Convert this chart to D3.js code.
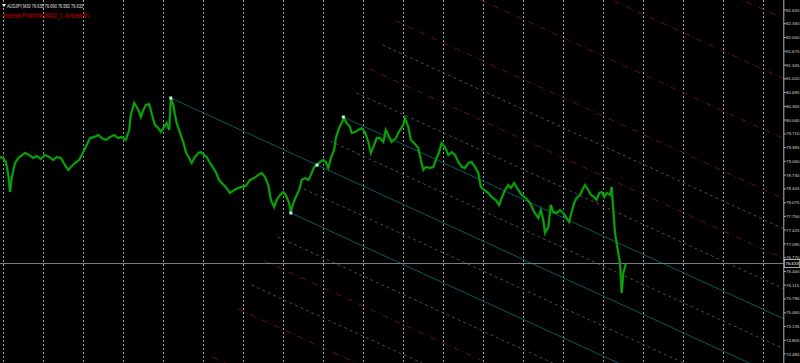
<!DOCTYPE html>
<html>
<head>
<meta charset="utf-8">
<script src="https://cdn.jsdelivr.net/npm/d3@7"></script>
<style>
	body{margin:0;background:#000;}
	svg{display:block;}
</style>
</head>
<body>
<svg id="chart" width="800" height="363"></svg>
<script>
//Header texts.
var symbolTitle = "AUDJPY,M30 76.635 76.690 76.582 76.633";
var pitchforkName = "Andrews Pitchfork 28432_1: Andrew ML";

//Right price axis labels.
var priceTicks = [82.655, 82.330, 82.000, 81.675, 81.345, 81.020, 80.695, 80.365, 80.040,
	79.710, 79.385, 79.060, 78.730, 78.405, 78.075, 77.750, 77.425, 77.095, 76.770,
	76.440, 76.115, 75.790, 75.460, 75.135, 74.805, 74.480];

//M30 bar numbers and prices.
var bars = [0,4,7,10,12,14,18,22,25,30,35,40,44,49,54,59,64,68,73,78,82,85,90,95,100,104,108,113,118,122,
	127,132,137,142,146,151,155,157,161,164,167,169,172,175,179,181,184,186,190,193,197,200,203,205,208,210,212,216,220,223,
	227,230,234,238,241,245,248,252,256,259,263,266,271,276,281,286,290,295,300,305,310,314,318,322,325,329,332,336,340,343,
	347,349,352,355,359,362,366,370,373,377,380,384,388,391,394,397,401,403,407,410,413,416,420,422,426,430,434,438,442,445,
	449,452,456,460,463,467,470,475,480,484,486,490,493,497,502,505,508,511,516,520,523,527,530,534,538,542,546,550,554,558,
	562,566,570,574,577,581,586,590,595,599,602,606,610,613,617,622,626,631,636,641,646,649,652,654,658,661,664,668,672,676,
	679,683,685,689,692,696,700,702,706,709,713,716,719,722,725,728,732,734,736,738,740,742,744,745,746,748,750,751];
var closes = [79.162,79.138,79.043,78.734,78.330,78.662,79.019,79.138,79.185,79.257,79.209,79.138,79.185,79.114,79.209,79.162,79.090,79.162,79.138,78.971,78.853,78.924,79.019,79.090,79.280,79.447,79.613,79.637,79.684,79.613,
	79.566,79.637,79.684,79.613,79.637,79.566,79.803,80.160,80.445,80.350,80.231,80.112,80.279,80.397,80.421,80.279,80.041,79.922,79.851,79.756,79.875,79.970,79.803,80.564,80.397,80.160,79.970,79.732,79.518,79.280,
	79.138,79.019,79.162,79.257,79.280,79.209,79.162,79.019,78.900,78.805,78.615,78.544,78.449,78.306,78.377,78.425,78.449,78.472,78.615,78.662,78.734,78.781,78.686,78.496,78.140,77.973,78.140,78.259,78.330,78.259,
	78.068,77.855,78.068,78.211,78.377,78.615,78.662,78.615,78.734,78.924,78.971,79.043,79.090,79.043,78.900,79.138,79.328,79.613,79.851,79.970,80.088,79.970,79.875,79.732,79.756,79.803,79.851,79.756,79.518,79.257,
	79.447,79.613,79.613,79.518,79.803,79.637,79.518,79.613,79.803,79.922,80.088,79.875,79.566,79.494,79.375,79.090,78.853,78.924,78.900,78.924,79.090,79.280,79.494,79.399,79.209,79.280,79.209,79.043,78.924,78.900,
	79.019,79.043,78.924,78.781,78.449,78.377,78.306,78.211,78.140,78.021,78.187,78.377,78.496,78.425,78.544,78.377,78.259,78.187,78.068,77.855,77.712,77.902,77.664,77.355,77.498,78.021,77.855,77.831,77.902,77.831,
	77.736,77.617,77.783,78.068,78.187,78.259,78.425,78.496,78.377,78.259,78.211,78.140,78.306,78.330,78.211,78.306,78.259,78.449,77.902,77.355,77.118,76.880,76.643,76.310,75.930,76.405,76.547,76.633];
var lastPrice = 76.633;

//Pitchfork anchors: handle, low, high.
var forkBars = [205, 349, 412];
var forkPrices = [80.564, 77.831, 80.112];
//Parallel levels, in handle widths (negative = above the median).
var forkLevels = [-6, -5, -4, -3, -2.5, -2, -1.5, -1, -0.5, 0, 0.5, 1, 1.5, 2, 2.5, 3, 4];

var width = 800, height = 363, plotRight = 783.3;

var x = d3.scaleLinear().domain([0, 940]).range([0, plotRight]);
var y = d3.scaleLinear().domain([74.480, 82.655]).range([354, 10]);

var svg = d3.select("#chart");

svg.append("rect")
	.attr("width", width)
	.attr("height", height)
	.attr("fill", "#000");

svg.append("defs").append("clipPath")
	.attr("id", "plot_clip")
	.append("rect")
	.attr("x", 0)
	.attr("y", 0)
	.attr("width", plotRight)
	.attr("height", height);

var plot = svg.append("g").attr("clip-path", "url(#plot_clip)");

//Vertical day separators.
plot.selectAll("line.grid")
	.data(d3.range(4, 940, 48))
	.enter()
	.append("line")
	.attr("class", "grid")
	.attr("x1", function(d){ return Math.round(x(d)) + 0.5; })
	.attr("x2", function(d){ return Math.round(x(d)) + 0.5; })
	.attr("y1", 0)
	.attr("y2", height)
	.attr("stroke", "#a4a4a4")
	.attr("stroke-width", 1)
	.attr("stroke-dasharray", "2,2");

//Pitchfork geometry in bar/price space.
var p0 = {b: forkBars[0], p: forkPrices[0]};
var p1 = {b: forkBars[1], p: forkPrices[1]};
var p2 = {b: forkBars[2], p: forkPrices[2]};
var mid = {b: (p1.b + p2.b) / 2, p: (p1.p + p2.p) / 2};
var slope = (mid.p - p0.p) / (mid.b - p0.b);
var endBar = 1000;

var forkLines = forkLevels.map(function(k){
	var start = k === 0 ? p0 : {b: mid.b + k * (p1.b - mid.b), p: mid.p + k * (p1.p - mid.p)};
	return {
		level: k,
		b1: start.b, p1: start.p,
		b2: endBar, p2: start.p + (endBar - start.b) * slope
	};
});

function lineStyle(k){
	if(k % 1 !== 0) return {stroke: "#4c4c4c", dash: "3,3"};
	if(Math.abs(k) <= 1) return {stroke: "#0a5a5a", dash: null};
	return {stroke: "#661212", dash: "6,3,1,3"};
}

plot.selectAll("line.fork")
	.data(forkLines)
	.enter()
	.append("line")
	.attr("class", "fork")
	.attr("x1", function(d){ return x(d.b1); })
	.attr("y1", function(d){ return y(d.p1); })
	.attr("x2", function(d){ return x(d.b2); })
	.attr("y2", function(d){ return y(d.p2); })
	.attr("stroke", function(d){ return lineStyle(d.level).stroke; })
	.attr("stroke-dasharray", function(d){ return lineStyle(d.level).dash; })
	.attr("stroke-width", 1);

//Current bid line.
plot.append("line")
	.attr("x1", 0)
	.attr("x2", plotRight)
	.attr("y1", Math.round(y(lastPrice)) + 0.5)
	.attr("y2", Math.round(y(lastPrice)) + 0.5)
	.attr("stroke", "#6f7d8c")
	.attr("stroke-width", 1);

//Price series.
var priceLine = d3.line()
	.x(function(d, i){ return x(bars[i]); })
	.y(function(d){ return y(d); });

plot.append("path")
	.datum(closes)
	.attr("d", priceLine)
	.attr("fill", "none")
	.attr("stroke", "#048a04")
	.attr("stroke-width", 2.4)
	.attr("stroke-linejoin", "miter");

plot.append("path")
	.datum(closes)
	.attr("d", priceLine)
	.attr("fill", "none")
	.attr("stroke", "#12b412")
	.attr("stroke-width", 0.8)
	.attr("stroke-linejoin", "round");

//Pitchfork anchor markers.
plot.selectAll("rect.anchor")
	.data([p0, p1, p2, mid])
	.enter()
	.append("rect")
	.attr("class", "anchor")
	.attr("x", function(d){ return x(d.b) - 1.5; })
	.attr("y", function(d){ return y(d.p) - 1.5; })
	.attr("width", 3)
	.attr("height", 3)
	.attr("fill", "#b8f0f0");

//Right price axis.
var axis = svg.append("g");

axis.append("line")
	.attr("x1", plotRight + 0.5)
	.attr("x2", plotRight + 0.5)
	.attr("y1", 0)
	.attr("y2", height)
	.attr("stroke", "#b4b4b4")
	.attr("stroke-width", 1);

var ticks = axis.selectAll("g.tick")
	.data(priceTicks)
	.enter()
	.append("g")
	.attr("class", "tick")
	.attr("transform", function(d){ return "translate(" + (plotRight + 0.5) + "," + y(d) + ")"; });

ticks.append("line")
	.attr("x1", 0)
	.attr("x2", 2)
	.attr("stroke", "#b4b4b4");

ticks.append("text")
	.attr("x", 2.2)
	.attr("dy", "0.35em")
	.attr("fill", "#d8d8d8")
	.attr("font-family", "Liberation Sans, Arial, sans-serif")
	.attr("font-size", "4.4px")
	.text(function(d){ return d.toFixed(3); });

//Bid label box.
var bidY = Math.round(y(lastPrice)) + 0.5;
axis.append("rect")
	.attr("x", plotRight + 1)
	.attr("y", bidY - 4)
	.attr("width", 15.5)
	.attr("height", 8)
	.attr("fill", "#000")
	.attr("stroke", "#d0d0d0")
	.attr("stroke-width", 0.8);

axis.append("text")
	.attr("x", plotRight + 2.2)
	.attr("y", bidY)
	.attr("dy", "0.35em")
	.attr("fill", "#ffffff")
	.attr("font-family", "Liberation Sans, Arial, sans-serif")
	.attr("font-size", "4.4px")
	.text(lastPrice.toFixed(3));

//Header.
svg.append("polygon")
	.attr("points", "2,4 6,4 4,7")
	.attr("fill", "#ffffff");

svg.append("text")
	.attr("x", 7)
	.attr("y", 8)
	.attr("fill", "#e0e0e0")
	.attr("font-family", "Liberation Sans, Arial, sans-serif")
	.attr("font-size", "5px")
	.attr("textLength", 76)
	.attr("lengthAdjust", "spacingAndGlyphs")
	.text(symbolTitle);

svg.append("text")
	.attr("x", 2)
	.attr("y", 18)
	.attr("fill", "#d00000")
	.attr("font-family", "Liberation Sans, Arial, sans-serif")
	.attr("font-size", "6.5px")
	.attr("textLength", 88)
	.attr("lengthAdjust", "spacingAndGlyphs")
	.text(pitchforkName);
</script>
</body>
</html>
